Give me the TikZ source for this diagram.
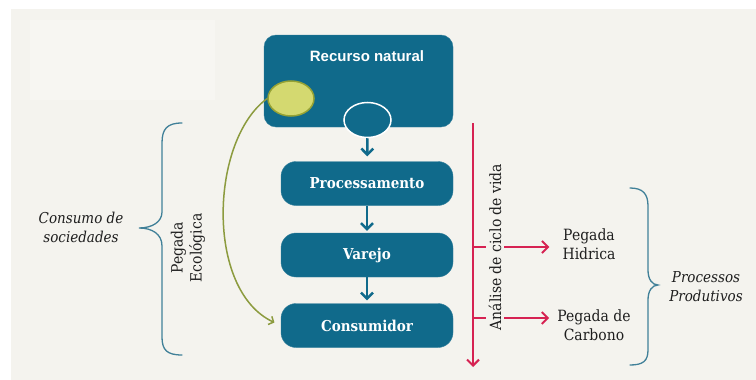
\documentclass[tikz,border=0pt]{standalone}
\usepackage{fontspec}
\setmainfont[FakeStretch=0.9]{DejaVu Serif}
\newfontfamily\boxsans{Liberation Sans}
\usetikzlibrary{arrows.meta,shapes.geometric}

\definecolor{bgbeige}{RGB}{244,243,238}
\definecolor{boxblue}{RGB}{16,106,139}
\definecolor{leafgreen}{RGB}{212,217,112}
\definecolor{leafedge}{RGB}{150,162,52}
\definecolor{pathgreen}{RGB}{140,155,62}
\definecolor{lifered}{RGB}{214,34,82}
\definecolor{bracecol}{RGB}{64,128,152}
\definecolor{textgrey}{RGB}{30,30,30}

\tikzset{
  stagebox/.style={draw=boxblue!85!white, fill=boxblue, rounded corners=15pt,
    minimum width=172pt, minimum height=44pt, text=white,
    font=\fontsize{15}{17}\selectfont\bfseries},
  lbl/.style={text=textgrey, font=\fontsize{15.5}{19}\selectfont, align=center, inner sep=1pt},
  ilbl/.style={lbl, font=\fontsize{15}{19}\selectfont\itshape},
  flow/.style={->, draw=boxblue, line width=2.5pt},
  redarrow/.style={->, draw=lifered, line width=2pt},
  brc/.style={draw=bracecol, line width=1.3pt, line cap=round},
}

\begin{document}
\begin{tikzpicture}[x=1pt,y=-1pt,>={Straight Barb[length=6pt,width=12pt]}]
\useasboundingbox (0,0) rectangle (756,380);
\fill[white] (0,0) rectangle (756,380);
\fill[bgbeige] (11,9) rectangle (756,380);
\fill[white!25!bgbeige] (30,20) rectangle (215,100);

% cadeia produtiva
\node[stagebox, rounded corners=12pt, minimum width=189pt, minimum height=92pt] (recurso) at (358.5,81) {};
\node[text=white, font=\boxsans\fontsize{15}{17}\selectfont\bfseries] (rtitulo) at (367,56) {Recurso natural};
\node[ellipse, draw=leafedge, fill=leafgreen, line width=1.5pt, minimum width=46pt, minimum height=35pt, inner sep=0pt] (folha) at (291,98.5) {};
\node[ellipse, draw=white, fill=boxblue, line width=1.5pt, minimum width=47pt, minimum height=35pt, inner sep=0pt] (saida) at (367.5,120) {};

\node[stagebox] (proc) at (367,183.5) {Processamento};
\node[stagebox] (varejo) at (367,255) {Varejo};
\node[stagebox] (consum) at (367,325.5) {Consumidor};

\draw[flow, shorten >=5pt] (saida) -- (proc);
\draw[flow, shorten >=2pt] (proc) -- (varejo);
\draw[flow, shorten >=3pt] (varejo) -- (consum);

\draw[pathgreen, line width=1.5pt, -{Straight Barb[length=4pt,width=9pt]}, shorten >=7pt]
  (folha.west) .. controls (210,140) and (205,290) .. (consum.west);

% analise de ciclo de vida
\coordinate (cvtopo) at (473,123);
\coordinate (cvfim) at (473,367);
\coordinate (cvA) at (473,247);
\coordinate (cvB) at (473,318);
\node[lbl] (hidrica) at (589,244) {Pegada\\Hidrica};
\node[lbl] (carbono) at (594,325) {Pegada de\\Carbono};
\draw[redarrow] (cvtopo) -- (cvfim);
\draw[redarrow, shorten >=12pt] (cvA) -- (cvA -| hidrica.west);
\draw[redarrow, shorten >=7pt] (cvB) -- (cvB -| carbono.west);
\node[lbl, rotate=90, fill=bgbeige, inner sep=3pt] (acv) at (495,247) {Análise de ciclo de vida};

% chaves
\draw[brc] (182,123) .. controls (167,123) and (162,129) .. (162,143) -- (162,212)
  .. controls (162,222) and (152,228) .. (139,228)
  .. controls (152,228) and (162,234) .. (162,246) -- (162,337)
  .. controls (162,350) and (167,355) .. (182,355);
\draw[brc] (630,188) .. controls (643,188) and (648,194) .. (648,206) -- (648,270)
  .. controls (648,279) and (652,285) .. (658,285)
  .. controls (652,285) and (648,291) .. (648,300) -- (648,350)
  .. controls (648,361) and (643,365) .. (630,365);

\node[ilbl] (consumo) at (81,227) {Consumo de\\sociedades};
\node[lbl, rotate=90] (ecologica) at (188,248) {Pegada\\Ecológica};
\node[ilbl] (produtivos) at (706,287) {Processos\\Produtivos};
\end{tikzpicture}
\end{document}
